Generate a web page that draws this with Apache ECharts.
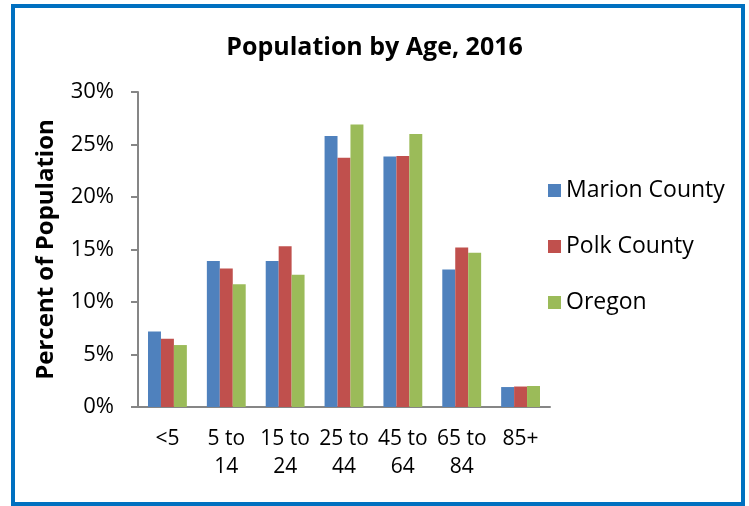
<!DOCTYPE html>
<html>
<head>
<meta charset="utf-8">
<script src="https://cdn.jsdelivr.net/npm/echarts@6/dist/echarts.min.js"></script>
<style>
html,body{margin:0;padding:0;background:#fff;}
#chart{width:749px;height:506px;}
</style>
</head>
<body>
<div id="chart"></div>
<script>
// 年龄组
var ageGroups = ['<5', '5 to 14', '15 to 24', '25 to 44', '45 to 64', '65 to 84', '85+'];
var marion = [7.2, 13.9, 13.9, 25.8, 23.85, 13.1, 1.9];
var polk = [6.5, 13.2, 15.3, 23.75, 23.9, 15.2, 1.95];
var oregon = [5.9, 11.7, 12.6, 26.9, 26.0, 14.7, 2.0];
var yTicks = [0, 5, 10, 15, 20, 25, 30];

var font = '"Open Sans", sans-serif';
var myChart = echarts.init(document.getElementById('chart'));

var option = {
	backgroundColor: '#fff',
	animation: false,
	title: {
		text: 'Population by Age, 2016',
		left: 'center',
		top: 30,
		textStyle: {fontFamily: font, fontSize: 25, fontWeight: 'bold', color: '#000'}
	},
	legend: {
		orient: 'vertical',
		left: 543,
		top: 174,
		itemWidth: 13,
		itemHeight: 13,
		itemGap: 33,
		icon: 'rect',
		textStyle: {fontFamily: font, fontSize: 23, color: '#000', padding: [0, 0, 0, 0]},
		data: ['Marion County', 'Polk County', 'Oregon']
	},
	grid: {left: 138, right: 199, top: 92, bottom: 99},
	xAxis: {
		type: 'category',
		data: ageGroups,
		axisLine: {lineStyle: {color: '#868686', width: 2}},
		axisTick: {length: 7, lineStyle: {color: '#868686', width: 2}},
		axisLabel: {
			color: '#000', fontFamily: font, fontSize: 21, margin: 18, lineHeight: 28,
			interval: 0,
			formatter: function(v){ return v.replace(' to ', ' to\n'); }
		}
	},
	yAxis: {
		type: 'value',
		min: yTicks[0],
		max: yTicks[yTicks.length - 1],
		interval: 5,
		name: 'Percent of Population',
		nameLocation: 'middle',
		nameGap: 80,
		nameTextStyle: {fontFamily: font, fontSize: 24, fontWeight: 'bold', color: '#000'},
		axisLine: {show: true, lineStyle: {color: '#868686', width: 2}},
		axisTick: {show: true, length: 7, lineStyle: {color: '#868686', width: 2}},
		splitLine: {show: false},
		axisLabel: {color: '#000', fontFamily: font, fontSize: 22, margin: 24, formatter: '{value}%'}
	},
	series: [
		{name: 'Marion County', type: 'bar', data: marion, barGap: '0%', barCategoryGap: '34%', itemStyle: {color: '#4F81BD'}},
		{name: 'Polk County', type: 'bar', data: polk, itemStyle: {color: '#C0504D'}},
		{name: 'Oregon', type: 'bar', data: oregon, itemStyle: {color: '#9BBB59'}}
	],
	graphic: [{
		type: 'rect',
		shape: {x: 13, y: 6, width: 730, height: 498},
		style: {fill: 'none', stroke: '#0070C0', lineWidth: 4},
		silent: true
	}]
};

myChart.setOption(option);
</script>
</body>
</html>
